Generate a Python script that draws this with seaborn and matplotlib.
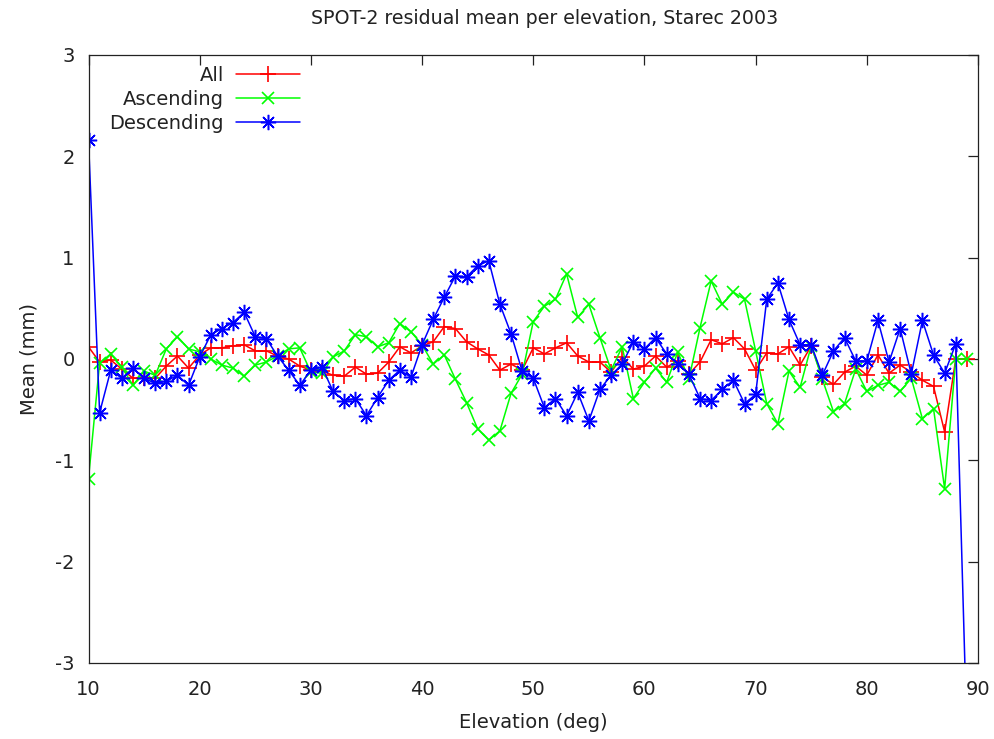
import numpy as np
import pandas as pd
import matplotlib
matplotlib.use("Agg")
import matplotlib.pyplot as plt
import seaborn as sns

elevation = list(range(10, 90))

all_mean = [0.12, -0.03, -0.01, -0.10, -0.19, -0.19, -0.19, -0.07, 0.03, -0.09,
            0.04, 0.11, 0.11, 0.13, 0.14, 0.08, 0.08, 0.03, 0.00, -0.07,
            -0.11, -0.12, -0.16, -0.17, -0.08, -0.15, -0.14, -0.03, 0.12, 0.06,
            0.13, 0.17, 0.32, 0.30, 0.17, 0.10, 0.04, -0.11, -0.05, -0.11,
            0.11, 0.05, 0.11, 0.16, 0.03, -0.03, -0.03, -0.13, 0.02, -0.10,
            -0.07, 0.03, -0.08, -0.02, -0.15, -0.03, 0.19, 0.15, 0.21, 0.10,
            -0.11, 0.06, 0.05, 0.12, -0.06, 0.13, -0.18, -0.25, -0.13, -0.07,
            -0.16, 0.04, -0.14, -0.06, -0.13, -0.21, -0.27, -0.72, 0.00, 0.00]

ascending = [-1.18, -0.04, 0.05, -0.08, -0.26, -0.12, -0.16, 0.10, 0.22, 0.10,
             0.07, 0.00, -0.06, -0.09, -0.17, -0.06, -0.03, 0.03, 0.10, 0.11,
             -0.13, -0.14, 0.02, 0.08, 0.24, 0.22, 0.12, 0.16, 0.35, 0.27,
             0.14, -0.05, 0.04, -0.20, -0.43, -0.69, -0.80, -0.71, -0.34, -0.15,
             0.37, 0.52, 0.59, 0.84, 0.41, 0.54, 0.21, -0.11, 0.12, -0.39,
             -0.23, -0.09, -0.23, 0.07, -0.20, 0.31, 0.77, 0.54, 0.66, 0.59,
             0.08, -0.44, -0.64, -0.12, -0.28, 0.13, -0.20, -0.52, -0.44, -0.10,
             -0.32, -0.26, -0.23, -0.32, -0.19, -0.59, -0.49, -1.28, 0.00, 0.00]

descending = [2.16, -0.53, -0.11, -0.19, -0.09, -0.19, -0.24, -0.22, -0.16, -0.26,
              0.02, 0.24, 0.30, 0.36, 0.46, 0.22, 0.20, 0.03, -0.11, -0.26,
              -0.11, -0.08, -0.32, -0.41, -0.39, -0.56, -0.38, -0.21, -0.11, -0.18,
              0.14, 0.39, 0.61, 0.82, 0.81, 0.92, 0.97, 0.54, 0.25, -0.12,
              -0.19, -0.48, -0.39, -0.56, -0.33, -0.61, -0.30, -0.16, -0.05, 0.17,
              0.10, 0.21, 0.05, -0.05, -0.15, -0.39, -0.41, -0.30, -0.21, -0.44,
              -0.35, 0.59, 0.75, 0.39, 0.14, 0.14, -0.16, 0.08, 0.21, -0.02,
              -0.02, 0.38, -0.03, 0.30, -0.15, 0.38, 0.04, -0.14, 0.15, -3.70]

x_ticks = [10, 20, 30, 40, 50, 60, 70, 80, 90]
y_ticks = [-3, -2, -1, 0, 1, 2, 3]
y_tick_labels = ["-3", "-2", "-1", "0", "1", "2", "3"]

sns.set_style("white")
plt.rcParams["font.family"] = ["DejaVu Sans"]

fig = plt.figure(figsize=(9.95, 7.39), dpi=100)
ax = fig.add_axes([88.5 / 995, 1 - 663 / 739, (978 - 88.5) / 995, (663 - 55) / 739])

df = pd.DataFrame({"elev": elevation, "All": all_mean,
                   "Ascending": ascending, "Descending": descending})

lw = 1.1
series = [("All", "#ff0000", "+", 11, 1.2),
          ("Ascending", "#00ff00", "x", 8, 1.2),
          ("Descending", "#0000ff", (8, 2, 0), 11, 1.1)]
for name, col, mk, ms, mew in series:
    sns.lineplot(data=df, x="elev", y=name, ax=ax, color=col, marker=mk,
                 markersize=ms, markeredgewidth=mew, markeredgecolor=col,
                 markerfacecolor=col, linewidth=lw, label=name, sort=False)

ax.set_xlim(10, 90)
ax.set_ylim(-3, 3)
ax.set_xticks(x_ticks)
ax.set_yticks(y_ticks)
ax.set_yticklabels(y_tick_labels)

for s in ax.spines.values():
    s.set_visible(True)
    s.set_color("#222222")
    s.set_linewidth(0.9)

fs = 14
ax.tick_params(axis="both", which="both", direction="in", length=7, width=0.9,
               color="#222222", top=True, right=True, labelsize=fs,
               labelcolor="#222222")
ax.tick_params(axis="x", pad=12)
ax.tick_params(axis="y", pad=10)

ax.set_xlabel("Elevation (deg)", fontsize=fs, color="#222222", labelpad=10)
ax.set_ylabel("Mean (mm)", fontsize=fs, color="#222222", labelpad=12)
ax.set_title("SPOT-2 residual mean per elevation, Starec 2003", fontsize=13.7,
             color="#222222", pad=22, x=0.513)

leg = ax.legend(loc="upper right", bbox_to_anchor=(0.242, 0.988), frameon=False,
                markerfirst=False, fontsize=fs, handlelength=3.3,
                handletextpad=0.6, labelspacing=0.25, borderaxespad=0,
                borderpad=0.2)
for t in leg.get_texts():
    t.set_color("#222222")

fig.savefig("out.png", dpi=100)
